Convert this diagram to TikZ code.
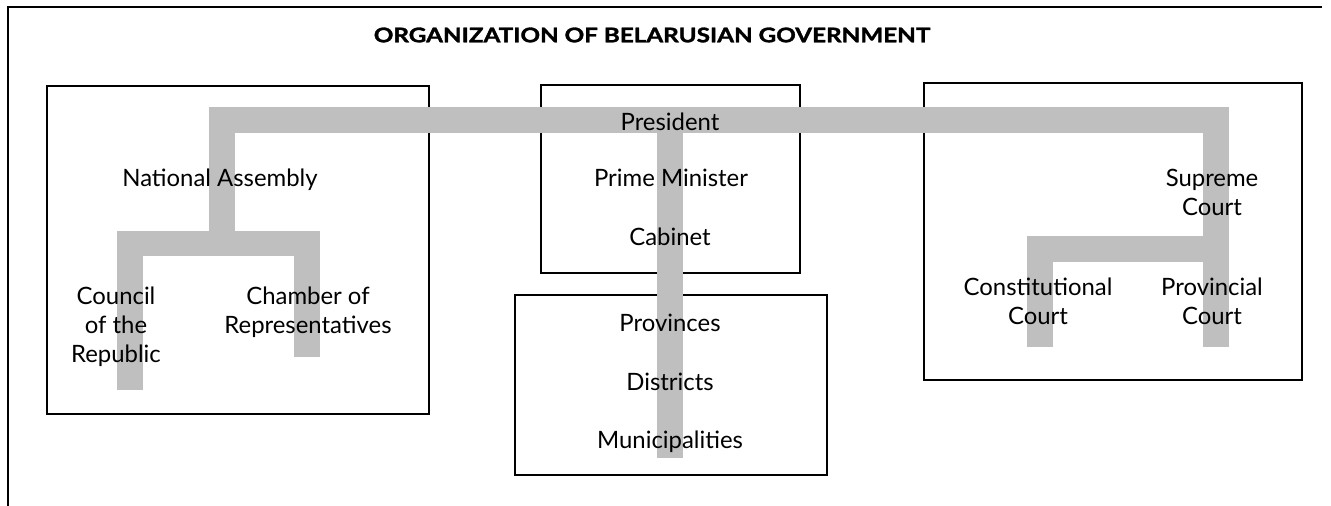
\documentclass[tikz,border=0pt]{standalone}
\usepackage{fontspec}
\setmainfont{Lato}
\newfontfamily\headfont{Lato}[BoldFeatures={FakeBold=1.5}]
\tikzset{
  unit/.style={draw=black, line width=1.1pt},
  band/.style={draw=black!25, line width=0.52cm, line join=miter},
  lbl/.style={font=\fontsize{13.6}{16.5}\selectfont, align=center, inner sep=0pt}
}
\begin{document}
\begin{tikzpicture}[x=0.02cm, y=-0.02cm]
  \useasboundingbox (0,0) rectangle (1331,506);
  % page frame and heading
  \draw[line width=1.2pt] (8,506) -- (8,7) -- (1322,7);
  \node[font=\headfont\bfseries\fontsize{11.5}{13}\selectfont] (title) at (652,35)
    {\scalebox{1.2}[1]{ORGANIZATION OF BELARUSIAN GOVERNMENT}};
  % the four blocks
  \draw[unit] (47,86) rectangle (429,414);
  \draw[unit] (541,85) rectangle (800,273);
  \draw[unit] (515,295) rectangle (827,475);
  \draw[unit] (924,83) rectangle (1302,380);
  % joints of the grey bands
  \coordinate (lbend) at (221.5,120.5); \coordinate (rbend) at (1216,120.5);
  \coordinate (top) at (670,120.5);     \coordinate (mdend) at (670,458);
  \coordinate (nabr) at (221.5,243.5);  \coordinate (crend) at (130,390);
  \coordinate (chend) at (306.5,357);   \coordinate (scbr) at (1216,249);
  \coordinate (ccend) at (1039.5,347);  \coordinate (pcend) at (1216,347);
  \draw[band] (nabr) -- (lbend) -- (rbend) -- (pcend);
  \draw[band] (crend) |- (nabr) -| (chend);
  \draw[band] (top) -- (mdend);
  \draw[band] (ccend) |- (scbr);
  % legislature
  \node[lbl] (assembly) at (220,180) {National Assembly};
  \node[lbl] (council) at (116,327) {Council\\of the\\Republic};
  \node[lbl] (chamber) at (308,312) {Chamber of\\Representatives};
  % executive
  \node[lbl] (president) at (670,122) {President};
  \node[lbl] (premier) at (671,178) {Prime Minister};
  \node[lbl] (cabinet) at (670,237) {Cabinet};
  \node[lbl] (provinces) at (670,323) {Provinces};
  \node[lbl] (districts) at (670,382) {Districts};
  \node[lbl] (municip) at (670,442) {Municipalities};
  % judiciary
  \node[lbl] (supreme) at (1212,192) {Supreme\\Court};
  \node[lbl] (constit) at (1038,301) {Constitutional\\Court};
  \node[lbl] (provcourt) at (1212,301) {Provincial\\Court};
\end{tikzpicture}
\end{document}
